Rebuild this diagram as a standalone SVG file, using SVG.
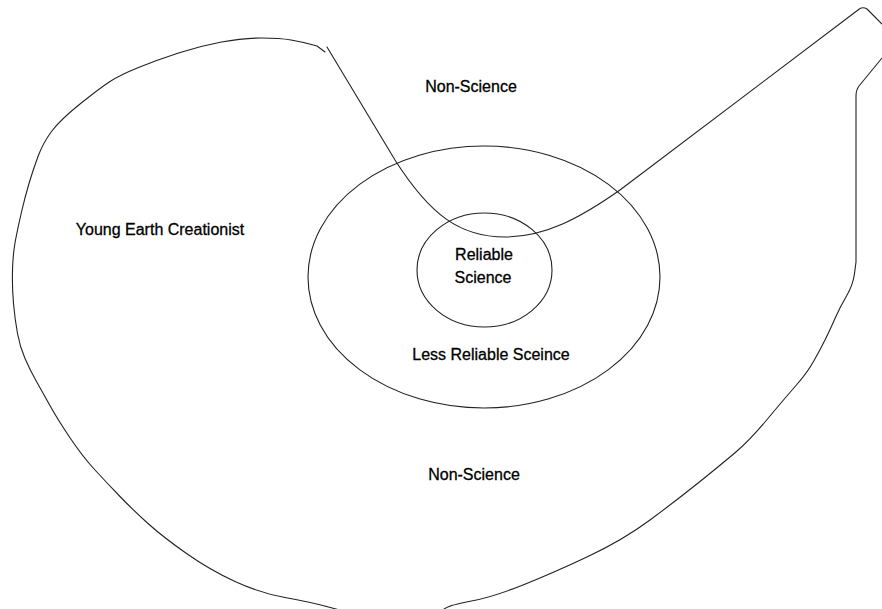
<svg xmlns="http://www.w3.org/2000/svg" width="882" height="609" viewBox="0 0 882 609">
<style>
.ln{fill:none;stroke:#222;stroke-width:1.1;stroke-linejoin:round;stroke-linecap:round}
.lb{font-family:"Liberation Sans",Arial,sans-serif;font-size:16px;fill:#000;stroke:#000;stroke-width:0.3;text-anchor:middle}
</style>
<rect width="882" height="609" fill="#fff"/>
<g id="outer-region">
<path class="ln" d="M882,58 L859,86 Q856,90 856,96 L856,262 L854.5,273.5 Q853,285 846.5,296 Q840,307 835,318.5 Q830,330 825,340 Q820,350 813.5,361.5 Q807,373 796,385.5 Q785,398 767.5,419 Q750,440 736.5,451.5 Q723,463 700,481.5 Q677,500 650,520 Q623,540 588,556.5 Q553,573 523,585 Q493,597 471.5,601 Q450,605 445,608.5 L440,612"/>
<path class="ln" d="M347,612 L328.5,607 Q310,602 285,597.5 Q260,593 235,581.5 Q210,570 186.5,553.5 Q163,537 148,523.5 Q133,510 120,496.5 Q107,483 95,470 Q83,457 70.5,438.5 Q58,420 50.5,406.5 Q43,393 36.5,381.5 Q30,370 25,358.5 Q20,347 17.5,333.5 Q15,320 13.5,303.5 Q12,287 12.5,270 Q13,253 15.5,240 Q18,227 21.5,212 Q25,197 29,183.5 Q33,170 38,156.5 Q43,143 51.5,131.5 Q60,120 80,104 Q100,88 110,81.5 Q120,75 138.5,67.5 Q157,60 178.5,53 Q200,46 221.5,42 Q243,38 261.5,38 Q280,38 291,40 Q302,42 309.5,44 L317,46 L325,52"/>
<text class="lb" x="160" y="235">Young Earth Creationist</text>
</g>
<g id="divider">
<path class="ln" d="M327,47 L395,160 C430,215 460,237 505,237 C545,237 580,218 620,190 L858,10 Q862,6 867,9 L882,24"/>
</g>
<g id="non-science-top">
<text class="lb" x="471" y="92">Non-Science</text>
</g>
<g id="less-reliable">
<ellipse class="ln" cx="484" cy="277" rx="176" ry="131"/>
<text class="lb" x="491" y="360">Less Reliable Sceince</text>
</g>
<g id="reliable">
<ellipse class="ln" cx="484.5" cy="270" rx="67.5" ry="57"/>
<text class="lb" x="484" y="260">Reliable</text>
<text class="lb" x="483" y="283">Science</text>
</g>
<g id="non-science-bottom">
<text class="lb" x="474" y="480">Non-Science</text>
</g>
</svg>
